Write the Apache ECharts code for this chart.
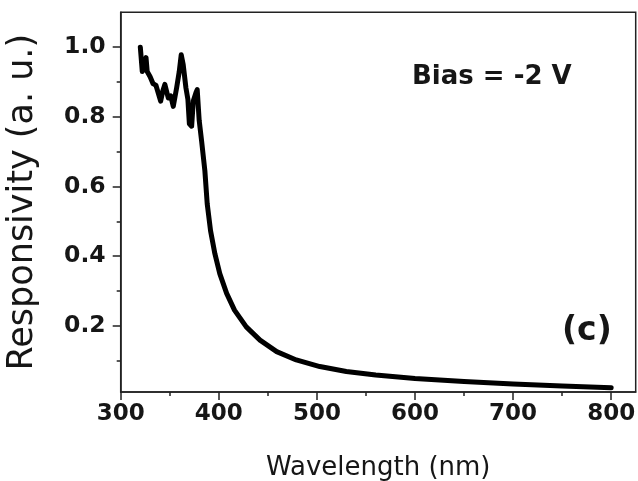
<!DOCTYPE html>
<html><head><meta charset="utf-8">
<script src="https://cdn.jsdelivr.net/npm/echarts@6/dist/echarts.min.js"></script>
<style>html,body{margin:0;padding:0;background:#fff}#c{width:638px;height:481px}</style>
</head><body><div id="c"></div>
<script>
const wavelength = [320, 322, 324, 325.8, 327, 330, 333, 336, 338, 340.7, 343, 345, 348.5, 351, 353.6, 357, 359.7, 361.7, 363.7, 366.5, 368.5, 370, 372.3, 374, 376.7, 378, 380, 382.5, 385.8, 388.2, 391.6, 396, 401, 408, 416, 428, 442, 459, 479, 503, 530, 560, 600, 650, 700, 750, 800];
const responsivity = [1.0, 0.93, 0.95, 0.97, 0.93, 0.915, 0.895, 0.89, 0.885, 0.845, 0.875, 0.893, 0.854, 0.86, 0.83, 0.883, 0.93, 0.978, 0.95, 0.883, 0.85, 0.78, 0.773, 0.845, 0.869, 0.878, 0.79, 0.73, 0.645, 0.55, 0.473, 0.407, 0.35, 0.293, 0.245, 0.197, 0.159, 0.126, 0.102, 0.083, 0.069, 0.059, 0.049, 0.040, 0.033, 0.027, 0.022];
const xTickValues = [300, 400, 500, 600, 700, 800];
const xMinorTicks = [350, 450, 550, 650, 750];
const yTickValues = [0.2, 0.4, 0.6, 0.8, 1.0];
const yMinorTicks = [0.1, 0.3, 0.5, 0.7, 0.9];
const xName = 'Wavelength (nm)';
const yName = 'Responsivity (a. u.)';
const annotation = 'Bias = -2 V';
const panelLabel = '(c)';

const points = wavelength.map((w, i) => [w, responsivity[i]]);
const axisColor = '#222';
const textColor = '#161616';
const X_MIN = 300, X_MAX = 825, Y_MIN = 0.01, Y_MAX = 1.1;

const chart = echarts.init(document.getElementById('c'), null, {renderer: 'canvas'});
chart.setOption({
  animation: false,
  backgroundColor: '#fff',
  grid: {left: 120.7, right: 2.3, top: 12.3, bottom: 89, show: true, borderColor: axisColor, borderWidth: 1.5, backgroundColor: 'transparent', containLabel: false, outerBoundsMode: 'none'},
  xAxis: [{
    type: 'value', min: X_MIN, max: X_MAX, position: 'bottom',
    axisLine: {show: true, lineStyle: {color: axisColor, width: 1.5}},
    axisTick: {show: true, inside: false, length: 8, customValues: xTickValues, lineStyle: {color: axisColor, width: 1.5}},
    axisLabel: {show: true, customValues: xTickValues, margin: 11, fontFamily: 'DejaVu Sans', fontWeight: 'bold', fontSize: 23, color: textColor},
    splitLine: {show: false},
    name: xName, nameLocation: 'middle', nameGap: 63,
    nameTextStyle: {fontFamily: 'DejaVu Sans', fontSize: 26, color: textColor}
  }, {
    type: 'value', min: X_MIN, max: X_MAX, position: 'bottom',
    axisLine: {show: false},
    axisTick: {show: true, inside: false, length: 4, customValues: xMinorTicks, lineStyle: {color: axisColor, width: 1.5}},
    axisLabel: {show: false},
    splitLine: {show: false}
  }],
  yAxis: [{
    type: 'value', min: Y_MIN, max: Y_MAX, position: 'left',
    axisLine: {show: true, lineStyle: {color: axisColor, width: 1.5}},
    axisTick: {show: true, inside: false, length: 8, customValues: yTickValues, lineStyle: {color: axisColor, width: 1.5}},
    axisLabel: {show: true, customValues: yTickValues, margin: 15, formatter: v => Number(v).toFixed(1), fontFamily: 'DejaVu Sans', fontWeight: 'bold', fontSize: 23.5, color: textColor},
    splitLine: {show: false},
    name: yName, nameLocation: 'middle', nameGap: 80,
    nameTextStyle: {fontFamily: 'DejaVu Sans', fontSize: 35, color: textColor}
  }, {
    type: 'value', min: Y_MIN, max: Y_MAX, position: 'left',
    axisLine: {show: false},
    axisTick: {show: true, inside: false, length: 4, customValues: yMinorTicks, lineStyle: {color: axisColor, width: 1.5}},
    axisLabel: {show: false},
    splitLine: {show: false}
  }],
  series: [{
    type: 'line', xAxisIndex: 0, yAxisIndex: 0, data: points,
    showSymbol: false, smooth: false,
    lineStyle: {color: '#000', width: 5, join: 'round', cap: 'round'}
  }],
  graphic: [
    {type: 'text', left: 412, top: 64, style: {text: annotation, font: 'bold 26px "DejaVu Sans"', fill: textColor}},
    {type: 'text', left: 562, top: 315, style: {text: panelLabel, font: 'bold 33px "DejaVu Sans"', fill: textColor}}
  ]
});
</script>
</body></html>
